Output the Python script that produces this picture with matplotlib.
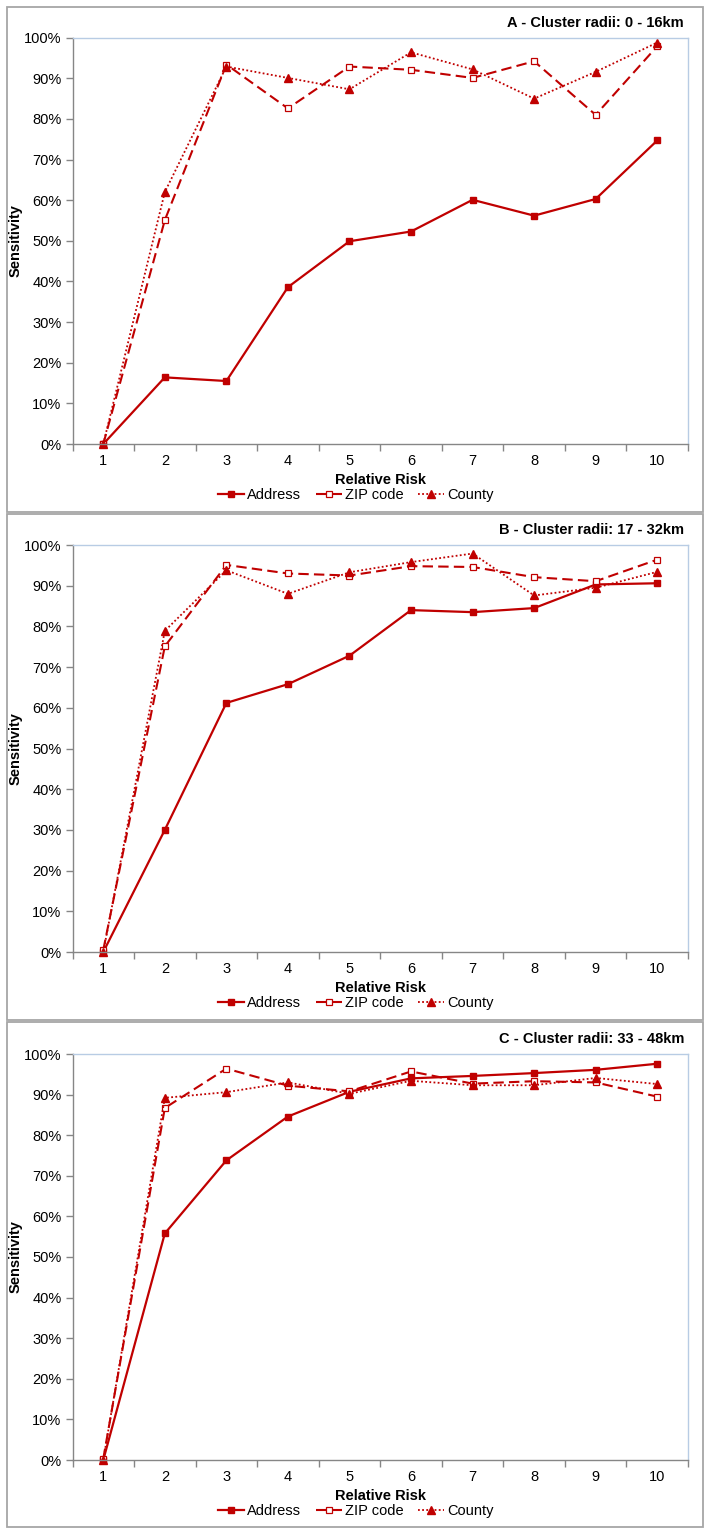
import matplotlib
matplotlib.use("Agg")
import matplotlib.pyplot as plt
from matplotlib.patches import Rectangle
from matplotlib.ticker import FuncFormatter, FixedLocator

plt.rcParams['font.family'] = ['Liberation Sans', 'DejaVu Sans']

relative_risk = [1, 2, 3, 4, 5, 6, 7, 8, 9, 10]
panel_titles = ["A - Cluster radii: 0 - 16km",
                "B - Cluster radii: 17 - 32km",
                "C - Cluster radii: 33 - 48km"]
series_names = ["Address", "ZIP code", "County"]

address_a = [0, 16.4, 15.5, 38.6, 49.9, 52.3, 60.1, 56.2, 60.3, 74.7]
zip_a = [0, 55.1, 93.4, 82.6, 92.9, 92.1, 90.1, 94.2, 81.0, 97.9]
county_a = [0, 62.0, 92.9, 90.1, 87.3, 96.4, 92.2, 85.0, 91.6, 98.8]

address_b = [0, 30.0, 61.2, 65.8, 72.8, 84.0, 83.5, 84.5, 90.3, 90.6]
zip_b = [0.5, 75.1, 95.1, 93.0, 92.5, 94.8, 94.6, 92.1, 91.1, 96.4]
county_b = [0, 78.9, 93.8, 88.0, 93.3, 95.8, 97.9, 87.6, 89.5, 93.4]

address_c = [0, 55.8, 73.8, 84.6, 90.7, 94.0, 94.6, 95.3, 96.1, 97.6]
zip_c = [0.3, 86.7, 96.4, 92.2, 90.8, 95.7, 92.7, 93.3, 93.0, 89.5]
county_c = [0, 89.2, 90.6, 93.0, 90.2, 93.4, 92.3, 92.3, 94.1, 92.6]

panels = [(address_a, zip_a, county_a),
          (address_b, zip_b, county_b),
          (address_c, zip_c, county_c)]

W, H = 711, 1535
fig = plt.figure(figsize=(W / 100, H / 100), dpi=100)

RED = "#C00000"
GRAY = "#868686"
BLUE = "#B8CCE4"

# pixel layout (top, bottom of axes; top, bottom of border)
axes_px = [(37.7, 444), (545, 952), (1054, 1460)]
border_px = [(7, 511.5), (514, 1020), (1022, 1527)]
ax_left, ax_right = 72.5, 688

for i, (addr, zp, cty) in enumerate(panels):
    bt, bb = border_px[i]
    fig.patches.append(Rectangle((7 / W, 1 - bb / H), (703 - 7) / W, (bb - bt) / H,
                                 transform=fig.transFigure, fill=False,
                                 edgecolor="#A6A6A6", linewidth=1.3))
    top, bot = axes_px[i]
    ax = fig.add_axes([ax_left / W, 1 - bot / H, (ax_right - ax_left) / W, (bot - top) / H])
    ax.plot(relative_risk, addr, color=RED, linestyle="-", linewidth=1.6,
            marker="s", markersize=4.2, markerfacecolor=RED, markeredgecolor=RED,
            label=series_names[0])
    ax.plot(relative_risk, zp, color=RED, linestyle=(0, (5, 2.5)), linewidth=1.5,
            marker="s", markersize=4.5, markerfacecolor="white", markeredgecolor=RED,
            markeredgewidth=0.9, label=series_names[1])
    ax.plot(relative_risk, cty, color=RED, linestyle=(0, (1, 1.3)), linewidth=1.3,
            marker="^", markersize=5.2, markerfacecolor=RED, markeredgecolor=RED,
            label=series_names[2])

    ax.set_xlim(0.5, 10.5)
    ax.set_ylim(0, 100)
    ax.set_yticks(range(0, 101, 10))
    ax.yaxis.set_major_formatter(FuncFormatter(lambda v, p: f"{int(round(v))}%"))
    ax.set_xticks(relative_risk)
    ax.set_xticklabels([str(x) for x in relative_risk])
    ax.xaxis.set_minor_locator(FixedLocator([x + 0.5 for x in range(0, 11)]))
    ax.tick_params(axis="x", which="major", length=0, pad=7, labelsize=10.5)
    ax.tick_params(axis="x", which="minor", length=5, width=1, color=GRAY, direction="out")
    ax.tick_params(axis="y", which="major", length=5, width=1, color=GRAY,
                   direction="out", labelsize=10.5, pad=3)
    for s in ("left", "bottom"):
        ax.spines[s].set_color(GRAY)
        ax.spines[s].set_linewidth(1.0)
    for s in ("top", "right"):
        ax.spines[s].set_color(BLUE)
        ax.spines[s].set_linewidth(1.0)
    for line in ax.lines:
        line.set_clip_on(False)

    ax.set_xlabel("Relative Risk", fontsize=10.5, fontweight="bold", labelpad=4)
    ax.set_ylabel("Sensitivity", fontsize=10.5, fontweight="bold", labelpad=4)
    ax.yaxis.set_label_coords(-(ax_left - 23) / (ax_right - ax_left), 0.5)

    fig.text(684 / W, 1 - (top - 15) / H, panel_titles[i], ha="right", va="center",
             fontsize=10.5, fontweight="bold")

    leg = fig.legend(handles=ax.lines, labels=series_names, loc="center",
                     bbox_to_anchor=(356 / W, 1 - (bot + 51) / H), ncol=3,
                     frameon=False, fontsize=10.5, handlelength=1.8,
                     handletextpad=0.2, columnspacing=1.0, borderpad=0)

fig.savefig("out.png", dpi=100)
